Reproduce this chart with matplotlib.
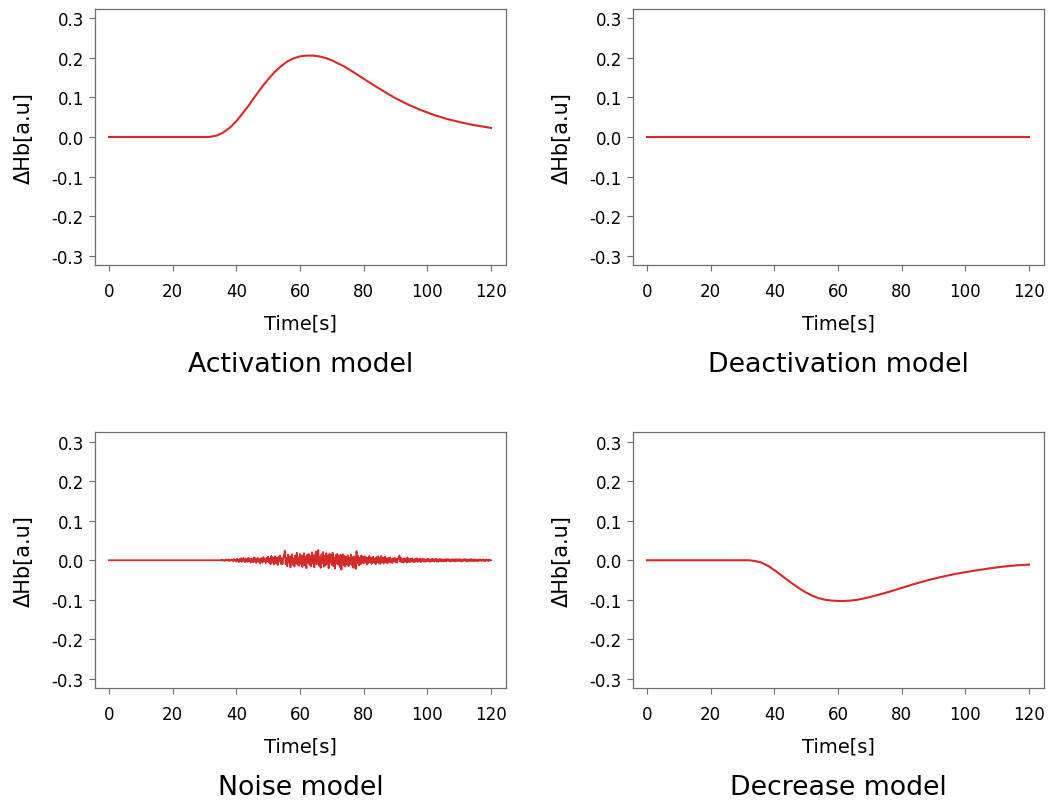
import numpy as np
import matplotlib
matplotlib.use("Agg")
import matplotlib.pyplot as plt

plt.rcParams['font.family'] = ['DejaVu Sans']
plt.rcParams['axes.unicode_minus'] = False

# activation model: hemodynamic response
act_t = [0, 31.5, 34, 36, 38, 40, 42, 44, 46, 48, 50, 52, 54, 56, 58, 60, 62, 63,
         64, 66, 68, 70, 74, 78, 82, 86, 90, 94, 98, 102, 106, 110, 114, 117, 120]
act_y = [0.0, 0.0, 0.004, 0.012, 0.024, 0.040, 0.060, 0.081, 0.104, 0.126, 0.146,
         0.164, 0.179, 0.191, 0.199, 0.204, 0.206, 0.206, 0.206, 0.204, 0.200, 0.194,
         0.178, 0.158, 0.137, 0.117, 0.098, 0.082, 0.068, 0.056, 0.046, 0.038, 0.031,
         0.027, 0.023]

# deactivation model: flat
deact_t = [0, 120]
deact_y = [0.0, 0.0]

# decrease model
dec_t = [0, 32, 34, 36, 38, 40, 42, 44, 46, 48, 50, 52, 54, 56, 58, 60, 62, 64,
         66, 68, 72, 76, 80, 84, 88, 92, 96, 100, 104, 108, 112, 116, 120]
dec_y = [0.0, 0.0, -0.002, -0.006, -0.014, -0.025, -0.037, -0.049, -0.061, -0.072,
         -0.082, -0.090, -0.096, -0.100, -0.102, -0.103, -0.103, -0.102, -0.100,
         -0.097, -0.089, -0.080, -0.070, -0.060, -0.051, -0.043, -0.036, -0.030,
         -0.025, -0.020, -0.016, -0.013, -0.011]

# noise model: 0 until 35 s, then samples every 0.25 s up to 120 s
noise_start = 35.0
noise_step = 0.25
noise_y = [
    0.000, 0.001, -0.001, 0.001, 0.000, -0.002, 0.001, 0.002, -0.001, 0.000,
    0.002, -0.002, 0.001, -0.001, 0.002, 0.000, -0.002, 0.003, -0.001, 0.001,
    -0.003, 0.004, 0.001, -0.005, 0.003, -0.002, 0.005, -0.004, 0.002, 0.006,
    -0.003, -0.005, 0.004, 0.001, -0.004, 0.006, -0.002, 0.003, -0.006, 0.004,
    0.002, -0.005, 0.007, -0.003, 0.005, -0.007, 0.001, 0.006, -0.004, 0.003,
    -0.008, 0.005, 0.002, -0.006, 0.008, -0.002, 0.004, -0.007, 0.006, -0.003,
    0.009, -0.006, 0.004, -0.010, 0.011, -0.004, 0.007, -0.011, 0.003, 0.010,
    -0.008, 0.006, -0.012, 0.009, -0.003, 0.012, -0.009, 0.005, -0.010, 0.008,
    0.013, 0.024, -0.010, 0.006, -0.015, 0.014, -0.006, 0.010, -0.018, 0.008,
    0.015, -0.012, 0.004, -0.016, 0.012, -0.008, 0.019, -0.011, 0.007, -0.014,
    0.016, -0.009, 0.012, -0.017, 0.005, 0.018, -0.013, 0.009, -0.020, 0.014,
    -0.006, 0.016, -0.012, 0.010, -0.015, 0.020, -0.008, 0.013, -0.018, 0.011,
    0.022, -0.010, 0.017, 0.026, -0.014, 0.008, -0.019, 0.015, -0.007, 0.021,
    -0.016, 0.011, -0.013, 0.018, -0.009, 0.012, -0.020, 0.016, -0.006, 0.014,
    -0.012, 0.019, -0.015, 0.007, -0.021, 0.013, -0.008, 0.016, -0.011, 0.010,
    -0.017, 0.014, -0.024, 0.009, 0.015, -0.013, 0.011, -0.016, 0.008, -0.010,
    0.012, -0.015, 0.006, -0.009, 0.014, -0.012, 0.008, -0.019, 0.010, 0.004,
    -0.022, 0.023, -0.008, 0.011, -0.013, 0.007, -0.010, 0.012, -0.006, 0.009,
    -0.008, 0.010, -0.005, 0.008, -0.011, 0.006, -0.007, 0.011, -0.004, 0.007,
    -0.009, 0.005, 0.009, -0.006, 0.004, -0.010, 0.008, -0.005, 0.010, -0.007,
    0.006, -0.009, 0.011, -0.005, 0.007, -0.008, 0.004, 0.009, -0.006, 0.005,
    -0.008, 0.006, -0.004, 0.007, -0.006, 0.003, -0.007, 0.005, -0.003, 0.006,
    -0.005, 0.004, -0.006, 0.005, 0.003, 0.012, -0.004, 0.006, -0.005, 0.003,
    -0.006, 0.005, -0.003, 0.004, -0.006, 0.007, -0.004, 0.003, -0.005, 0.004,
    -0.003, 0.005, -0.004, 0.002, -0.005, 0.004, -0.002, 0.005, -0.004, 0.003,
    -0.003, 0.004, -0.005, 0.002, 0.004, -0.003, 0.003, -0.004, 0.002, -0.003,
    0.004, -0.002, 0.003, -0.004, 0.002, -0.003, 0.004, -0.002, 0.003, -0.003,
    0.002, 0.004, -0.003, 0.002, -0.004, 0.003, -0.002, 0.003, -0.003, 0.002,
    -0.003, 0.002, -0.002, 0.003, -0.003, 0.002, 0.003, -0.002, 0.002, -0.003,
    0.002, -0.002, 0.003, -0.002, 0.002, -0.003, 0.003, -0.002, 0.002, -0.002,
    0.003, -0.002, 0.002, -0.003, 0.002, -0.002, 0.002, 0.003, -0.002, 0.002,
    -0.003, 0.002, -0.002, 0.002, -0.002, 0.003, -0.002, 0.002, -0.002, 0.002,
    -0.002, 0.002, -0.002, 0.001, -0.002, 0.002, -0.001, 0.002, -0.002, 0.001,
    0.002, -0.002, 0.001, -0.002, 0.002, -0.001, 0.001, -0.002, 0.001, -0.001,
    0.000,
]
noise_t = [0.0] + list(noise_start + noise_step * np.arange(len(noise_y)))
noise_y = [0.0] + noise_y

titles = ["Activation model", "Deactivation model", "Noise model", "Decrease model"]
xticks = [0, 20, 40, 60, 80, 100, 120]
yticks = [-0.3, -0.2, -0.1, 0.0, 0.1, 0.2, 0.3]

line_color = "#d42a2a"
spine_color = "#6e6e6e"

fig = plt.figure(figsize=(10.51, 8.03), dpi=100)
lefts = [0.0904, 0.6023]
bottoms = [0.6687, 0.1416]
w, h = 0.391, 0.3194
series = [(act_t, act_y), (deact_t, deact_y), (noise_t, noise_y), (dec_t, dec_y)]

for i, (t, y) in enumerate(series):
    ax = fig.add_axes([lefts[i % 2], bottoms[i // 2], w, h])
    ax.plot(t, y, color=line_color, lw=1.5 if i != 2 else 1.3)
    ax.set_xlim(-4.4, 124.7)
    ax.set_ylim(-0.324, 0.325)
    ax.set_xticks(xticks)
    ax.set_yticks(yticks)
    ax.set_yticklabels([f"{v:.1f}" for v in yticks])
    ax.tick_params(direction='out', length=4, width=0.8, color=spine_color,
                   labelsize=12)
    ax.tick_params(axis='x', pad=8)
    ax.tick_params(axis='y', pad=4)
    for s in ax.spines.values():
        s.set_color(spine_color)
        s.set_linewidth(0.9)
    ax.set_xlabel("Time[s]", fontsize=14, labelpad=10)
    ax.set_ylabel("ΔHb[a.u]", fontsize=15, labelpad=13)
    ax.text(0.5, -0.385, titles[i], transform=ax.transAxes, ha='center', va='center',
            fontsize=19.3)

fig.savefig("out.png", dpi=100)
